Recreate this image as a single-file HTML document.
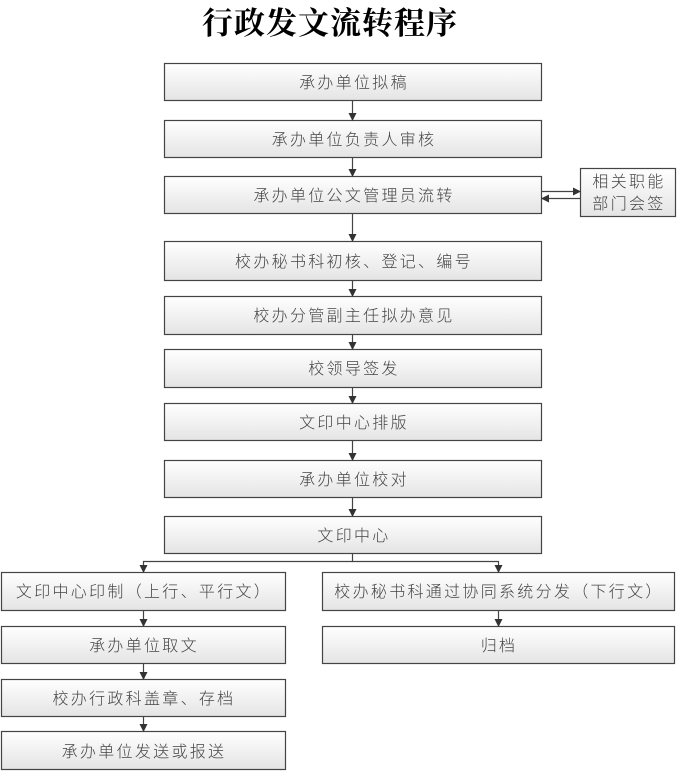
<!DOCTYPE html>
<html><head><meta charset="utf-8"><style>
body{margin:0;background:#fff;width:695px;height:772px;overflow:hidden}
text{font-family:"Liberation Sans","Noto Sans CJK SC",sans-serif;font-size:16px;fill:#444;letter-spacing:2.3px;font-weight:300}
</style></head><body>
<svg width="695" height="772" xmlns="http://www.w3.org/2000/svg">
<defs>
<linearGradient id="g" x1="0" y1="0" x2="0" y2="1"><stop offset="0" stop-color="#ffffff"/><stop offset="1" stop-color="#e4e4e4"/></linearGradient>
<marker id="a" markerWidth="8" markerHeight="8" refX="7" refY="4" orient="auto" markerUnits="userSpaceOnUse"><path d="M0,0L8,4L0,8z" fill="#333"/></marker>
</defs>
<text x="330" y="34" text-anchor="middle" style="font-family:'Noto Serif CJK SC','Noto Sans CJK SC',serif;font-size:31px;font-weight:bold;fill:#000;letter-spacing:1px">行政发文流转程序</text>
<g stroke="#444" stroke-width="1.2" fill="url(#g)">
<rect x="164.5" y="63.5" width="377" height="37"/>
<rect x="164.5" y="120.5" width="377" height="37"/>
<rect x="164.5" y="176.5" width="377" height="37"/>
<rect x="580.5" y="168.5" width="95" height="48"/>
<rect x="164.5" y="241.5" width="377" height="39"/>
<rect x="164.5" y="296.5" width="377" height="38"/>
<rect x="164.5" y="349.5" width="377" height="38"/>
<rect x="164.5" y="403.5" width="377" height="37"/>
<rect x="164.5" y="460.5" width="377" height="37"/>
<rect x="164.5" y="516.5" width="377" height="37"/>
<rect x="1.5" y="572.5" width="284" height="38"/>
<rect x="1.5" y="626.5" width="284" height="37"/>
<rect x="1.5" y="679.5" width="284" height="37"/>
<rect x="1.5" y="731.5" width="284" height="38"/>
<rect x="322.5" y="572.5" width="352" height="38"/>
<rect x="322.5" y="626.5" width="352" height="37"/>
</g>
<g stroke="#444" stroke-width="1.2" fill="none" marker-end="url(#a)">
<line x1="352.5" y1="101" x2="352.5" y2="120"/>
<line x1="352.5" y1="158" x2="352.5" y2="176"/>
<line x1="352.5" y1="214" x2="352.5" y2="241"/>
<line x1="352.5" y1="281" x2="352.5" y2="296"/>
<line x1="352.5" y1="335" x2="352.5" y2="349"/>
<line x1="352.5" y1="388" x2="352.5" y2="403"/>
<line x1="352.5" y1="441" x2="352.5" y2="460"/>
<line x1="352.5" y1="498" x2="352.5" y2="516"/>
<line x1="542" y1="191.5" x2="580" y2="191.5"/>
<line x1="580" y1="198.5" x2="542" y2="198.5"/>
<polyline points="352.5,554 352.5,561.5 143.5,561.5 143.5,572"/>
<polyline points="352.5,561.5 498.5,561.5 498.5,572"/>
<line x1="143.5" y1="611" x2="143.5" y2="626"/>
<line x1="143.5" y1="664" x2="143.5" y2="679"/>
<line x1="143.5" y1="717" x2="143.5" y2="731"/>
<line x1="498.5" y1="611" x2="498.5" y2="626"/>
</g>
<g text-anchor="middle">
<text x="354" y="88">承办单位拟稿</text>
<text x="354" y="145">承办单位负责人审核</text>
<text x="354" y="201">承办单位公文管理员流转</text>
<text x="629" y="187">相关职能</text>
<text x="629" y="209">部门会签</text>
<text x="354" y="267">校办秘书科初核、登记、编号</text>
<text x="354" y="321">校办分管副主任拟办意见</text>
<text x="354" y="374">校领导签发</text>
<text x="354" y="428">文印中心排版</text>
<text x="354" y="485">承办单位校对</text>
<text x="354" y="541">文印中心</text>
<text x="144" y="597">文印中心印制（上行、平行文）</text>
<text x="144" y="651">承办单位取文</text>
<text x="144" y="704">校办行政科盖章、存档</text>
<text x="144" y="757">承办单位发送或报送</text>
<text x="499" y="597">校办秘书科通过协同系统分发（下行文）</text>
<text x="499" y="651">归档</text>
</g>
</svg>
</body></html>
